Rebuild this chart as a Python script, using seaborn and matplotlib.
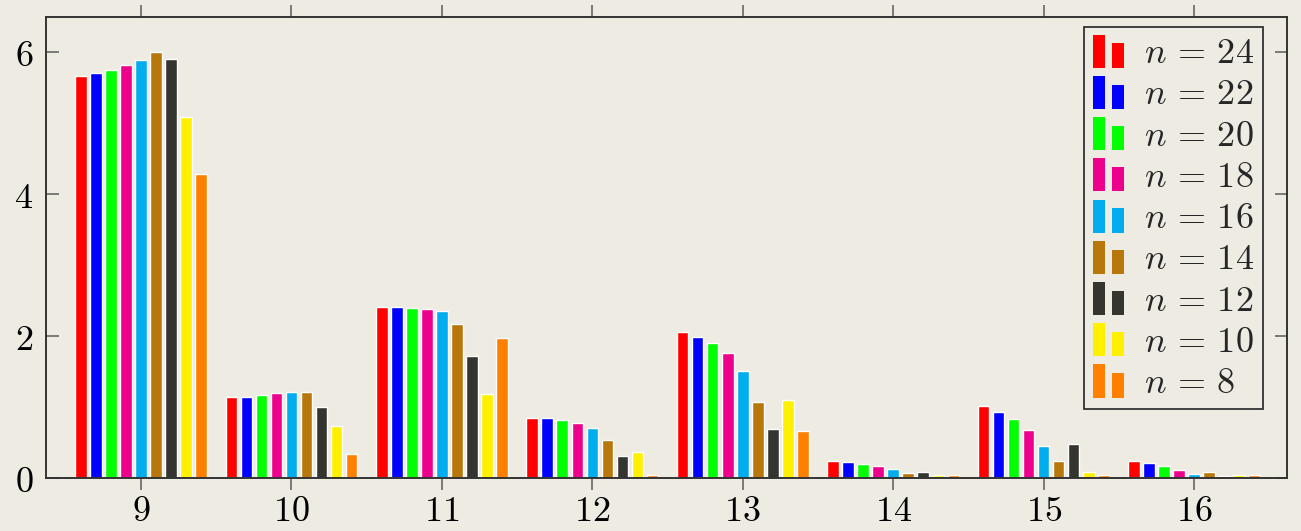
import pandas as pd
import matplotlib.pyplot as plt
import seaborn as sns
from matplotlib.patches import Patch, Rectangle
from matplotlib.legend_handler import HandlerBase

# Dados
grupos = [9, 10, 11, 12, 13, 14, 15, 16]
series_n = [24, 22, 20, 18, 16, 14, 12, 10, 8]
valores = {
    24: [5.67, 1.15, 2.42, 0.85, 2.06, 0.24, 1.02, 0.24],
    22: [5.71, 1.15, 2.41, 0.845, 1.99, 0.225, 0.94, 0.22],
    20: [5.75, 1.175, 2.40, 0.82, 1.90, 0.205, 0.835, 0.17],
    18: [5.82, 1.20, 2.39, 0.78, 1.76, 0.18, 0.68, 0.11],
    16: [5.89, 1.21, 2.36, 0.71, 1.51, 0.13, 0.45, 0.06],
    14: [6.01, 1.21, 2.17, 0.54, 1.08, 0.075, 0.25, 0.085],
    12: [5.91, 1.01, 1.73, 0.31, 0.69, 0.095, 0.48, 0.03],
    10: [5.09, 0.74, 1.19, 0.37, 1.11, 0.04, 0.085, 0.04],
    8: [4.29, 0.34, 1.98, 0.04, 0.67, 0.04, 0.04, 0.04],
}
cores = ['#ff0000', '#0000ff', '#00ff00', '#ec008c', '#00aeef',
         '#b8770b', '#353530', '#fff000', '#ff8000']
rotulos = [f'$n\\,=\\,{n}$' for n in series_n]

linhas = []
for n in series_n:
    for g, v in zip(grupos, valores[n]):
        linhas.append({'grupo': str(g), 'n': str(n), 'valor': v})
df = pd.DataFrame(linhas)

fundo = '#eeebe3'
sns.set_theme(style='ticks')
plt.rcParams['mathtext.fontset'] = 'cm'
plt.rcParams['font.family'] = ['DejaVu Serif']


class DuasBarras(HandlerBase):
    def create_artists(self, legend, orig_handle, xdescent, ydescent,
                       width, height, fontsize, trans):
        c = orig_handle.get_facecolor()
        w = width * 0.38
        alto = Rectangle((-xdescent, -ydescent - height * 0.15), w, height * 1.25,
                         facecolor=c, edgecolor='none', transform=trans)
        baixo = Rectangle((-xdescent + width - w, -ydescent - height * 0.15), w, height * 0.92,
                          facecolor=c, edgecolor='none', transform=trans)
        return [alto, baixo]


fig = plt.figure(figsize=(13.01, 5.31), dpi=100, facecolor=fundo)
ax = fig.add_axes([46 / 1301, 1 - 478.3 / 531, (1287 - 46) / 1301, (478.3 - 17) / 531])
ax.set_facecolor(fundo)

sns.barplot(data=df, x='grupo', y='valor', hue='n', order=[str(g) for g in grupos],
            hue_order=[str(n) for n in series_n], palette=cores, saturation=1,
            width=0.9, gap=0.23, legend=False, ax=ax)

ax.set_xlim(-0.632, 7.618)
ax.set_ylim(0, 6.5)
ax.set_xlabel('')
ax.set_ylabel('')
ax.set_xticks(range(len(grupos)))
ax.set_xticklabels([f'${g}$' for g in grupos], fontsize=26)
ax.set_yticks([0, 2, 4, 6])
ax.set_yticklabels(['$0$', '$2$', '$4$', '$6$'], fontsize=26)

for s in ax.spines.values():
    s.set_visible(True)
    s.set_color('#333333')
    s.set_linewidth(1.4)
ax.tick_params(axis='x', which='both', top=True, bottom=True, direction='out',
               length=8.5, width=1.2, color='#666666', pad=3, labelcolor='black')
ax.tick_params(axis='y', which='both', left=True, right=True, direction='in',
               length=9, width=1.2, color='#666666', pad=9, labelcolor='black')

handles = [Patch(facecolor=c) for c in cores]
leg = ax.legend(handles, rotulos, handler_map={Patch: DuasBarras()},
                loc='upper right', bbox_to_anchor=(0.9807, 0.978), borderaxespad=0,
                fontsize=26, frameon=True, fancybox=False, framealpha=1,
                handlelength=0.85, handleheight=0.75, handletextpad=0.55,
                labelspacing=0.2, borderpad=0.25)
leg.get_frame().set_facecolor(fundo)
leg.get_frame().set_edgecolor('#333333')
leg.get_frame().set_linewidth(1.3)

fig.savefig('out.png', dpi=100, facecolor=fundo)
